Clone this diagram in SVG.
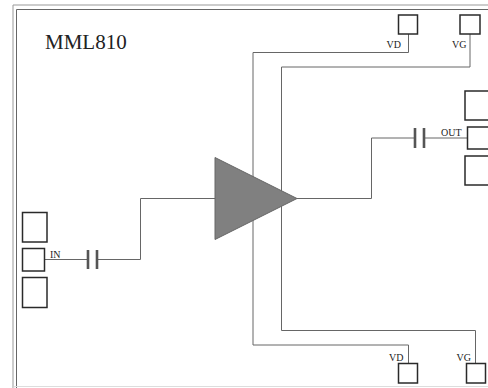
<svg xmlns="http://www.w3.org/2000/svg" width="488" height="388" viewBox="0 0 488 388">
<style>
.frame{fill:none;stroke-width:1}
.pad{fill:#fff;stroke:#2a2a2a;stroke-width:1.5}
.w{fill:none;stroke:#666;stroke-width:1}
.cap{stroke:#555;stroke-width:2.6;fill:none}
text{font-family:"Liberation Serif","Times New Roman",serif;fill:#222}
.s{font-size:10px}
</style>
<rect width="488" height="388" fill="#fff"/>
<g id="frame">
<path class="frame" d="M488 5H13V388" stroke="#999"/>
<path class="frame" d="M488 9.500H16.500V388" stroke="#666"/>
<path d="M14 388V386.500H488" fill="none" stroke="#ddd"/>
</g>
<g id="connectors">
<path class="w" d="M408.500 34V52.500H253V345H408.500V363"/>
<path class="w" d="M470 34V67H281.500V330.500H475.500V363"/>
<path class="w" d="M297 198.500H371.500V138H414M425 138H467"/>
<path class="w" d="M45 259.500H88M97 259.500H140.500V198.500H215"/>
<path class="cap" d="M88 250V269M97 250V269M415 128V148M424 128V148"/>
</g>
<g id="amp"><path d="M215 157.500V239.500L297 198.500Z" fill="#808080" stroke="#666"/></g>
<g id="title"><text x="45" y="49" font-size="21">MML810</text></g>
<g id="pad-vd-top"><rect class="pad" x="398.500" y="15" width="19" height="19"/><text class="s" x="386.500" y="48">VD</text></g>
<g id="pad-vg-top"><rect class="pad" x="460" y="15" width="20" height="19"/><text class="s" x="452" y="48">VG</text></g>
<g id="pad-out-top"><rect class="pad" x="465" y="91" width="30" height="29"/></g>
<g id="pad-out"><rect class="pad" x="467.500" y="127" width="30" height="22"/><text class="s" x="441" y="136">OUT</text></g>
<g id="pad-out-bottom"><rect class="pad" x="465" y="156" width="30" height="29"/></g>
<g id="pad-in-top"><rect class="pad" x="22.500" y="212.500" width="24.500" height="29.500"/></g>
<g id="pad-in"><rect class="pad" x="22.500" y="248.500" width="22" height="22.500"/><text class="s" x="50" y="258">IN</text></g>
<g id="pad-in-bottom"><rect class="pad" x="22.500" y="277.500" width="24.500" height="30"/></g>
<g id="pad-vd-bottom"><rect class="pad" x="398.500" y="363.500" width="19" height="19.500"/><text class="s" x="389" y="361">VD</text></g>
<g id="pad-vg-bottom"><rect class="pad" x="466.500" y="363.500" width="19" height="19.500"/><text class="s" x="456.500" y="361">VG</text></g>
</svg>
